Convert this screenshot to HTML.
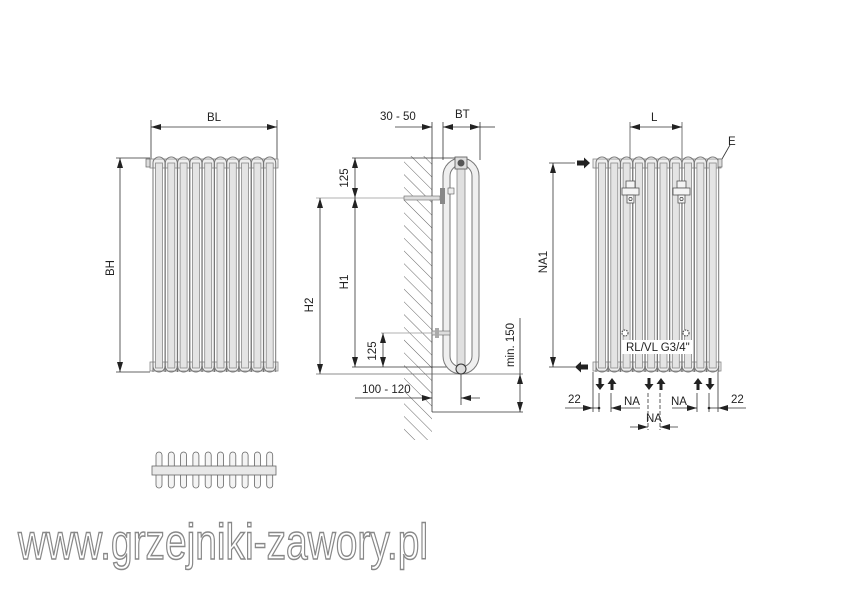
<!DOCTYPE html>
<html><head><meta charset="utf-8"><style>
html,body{margin:0;padding:0;background:#fff}
svg{display:block}
text{font-family:"Liberation Sans",sans-serif;font-size:11.5px;fill:#222;font-weight:500}
</style></head><body>
<svg width="850" height="600" viewBox="0 0 850 600" xmlns="http://www.w3.org/2000/svg">
<defs>
<pattern id="hatch" width="9" height="9" patternUnits="userSpaceOnUse" patternTransform="rotate(-45)">
<line x1="0" y1="0" x2="0" y2="9" stroke="#555" stroke-width="0.9"/>
</pattern>
<g id="col">
<path d="M-6,372 L-6,163 A6,6 0 0 1 6,163 L6,372" fill="none" stroke="#777" stroke-width="1"/>
<rect x="-3.5" y="163" width="7" height="205" fill="#e4e4e4" stroke="#888" stroke-width="0.8"/>
<path d="M-6,366 A6,6 0 0 0 6,366" fill="none" stroke="#777" stroke-width="1"/>
</g>
<g id="rad">
<rect x="0" y="159" width="128" height="9" fill="#efefef" stroke="#888" stroke-width="0.8"/>
<rect x="0" y="362" width="128" height="9" fill="#efefef" stroke="#888" stroke-width="0.8"/>
<use href="#col" x="9"/><use href="#col" x="21.3"/><use href="#col" x="33.6"/><use href="#col" x="45.9"/><use href="#col" x="58.2"/>
<use href="#col" x="70.5"/><use href="#col" x="82.8"/><use href="#col" x="95.1"/><use href="#col" x="107.4"/><use href="#col" x="119.7"/>
</g>
<marker id="ar" viewBox="0 0 10 6" refX="10" refY="3" markerWidth="10" markerHeight="6" orient="auto-start-reverse" markerUnits="userSpaceOnUse">
<path d="M0,0 L10,3 L0,6z" fill="#222"/></marker>
<g id="tc"><rect x="-3" y="0" width="6" height="36" rx="3" fill="#f4f4f4" stroke="#666" stroke-width="0.8"/></g>
</defs>

<g stroke="#333" stroke-width="0.8" fill="none">
<line x1="151" y1="120" x2="151" y2="160"/><line x1="277" y1="120" x2="277" y2="160"/>
<line x1="151" y1="127" x2="277" y2="127" marker-start="url(#ar)" marker-end="url(#ar)"/>
<line x1="116" y1="158" x2="150" y2="158"/><line x1="116" y1="372" x2="150" y2="372"/>
<line x1="120" y1="158" x2="120" y2="372" marker-start="url(#ar)" marker-end="url(#ar)"/>
</g>
<use href="#rad" x="150"/>
<rect x="146" y="159" width="4" height="8" fill="#ddd" stroke="#666" stroke-width="0.7"/>
<text x="207" y="121">BL</text>
<text transform="translate(114,268) rotate(-90)" text-anchor="middle">BH</text>

<g>
<use href="#tc" x="159" y="452"/><use href="#tc" x="171.3" y="452"/><use href="#tc" x="183.6" y="452"/><use href="#tc" x="195.9" y="452"/><use href="#tc" x="208.2" y="452"/>
<use href="#tc" x="220.5" y="452"/><use href="#tc" x="232.8" y="452"/><use href="#tc" x="245.1" y="452"/><use href="#tc" x="257.4" y="452"/><use href="#tc" x="269.7" y="452"/>
<rect x="152" y="466" width="124" height="9" fill="#e8e8e8" stroke="#666" stroke-width="0.8"/>
</g>

<rect x="404" y="156" width="28" height="284" fill="url(#hatch)"/>
<g stroke="#333" stroke-width="0.8" fill="none">
<line x1="432" y1="122" x2="432" y2="412"/>
<line x1="443" y1="122" x2="443" y2="160"/><line x1="480" y1="122" x2="480" y2="160"/>
<line x1="395" y1="127" x2="432" y2="127" marker-end="url(#ar)"/>
<line x1="443" y1="127" x2="480" y2="127" marker-start="url(#ar)" marker-end="url(#ar)"/>
<line x1="480" y1="127" x2="495" y2="127"/>
<line x1="352" y1="158" x2="460" y2="158"/>
<line x1="316" y1="198" x2="440" y2="198" stroke="#999"/>
<line x1="355" y1="158" x2="355" y2="198" marker-start="url(#ar)" marker-end="url(#ar)"/>
<line x1="355" y1="198" x2="355" y2="367" marker-start="url(#ar)" marker-end="url(#ar)"/>
<line x1="352" y1="367" x2="460" y2="367"/>
<line x1="320" y1="198" x2="320" y2="374" marker-start="url(#ar)" marker-end="url(#ar)"/>
<line x1="316" y1="374" x2="523" y2="374" stroke="#666"/>
<line x1="381" y1="333" x2="440" y2="333" stroke="#999"/>
<line x1="383" y1="333" x2="383" y2="367" marker-start="url(#ar)" marker-end="url(#ar)"/>
<line x1="520" y1="318" x2="520" y2="374"/>
<line x1="520" y1="374" x2="520" y2="412" marker-start="url(#ar)" marker-end="url(#ar)"/>
<line x1="432" y1="412" x2="523" y2="412"/>
<line x1="461" y1="370" x2="461" y2="405"/>
<line x1="355" y1="398" x2="432" y2="398" marker-end="url(#ar)"/>
<line x1="461" y1="398" x2="480" y2="398" marker-start="url(#ar)"/>
</g>
<path d="M443,176 A18,18 0 0 1 479,176 L479,356 A18,18 0 0 1 443,356 Z" fill="#efefef" stroke="#777" stroke-width="1"/>
<path d="M450,176 A11,11 0 0 1 472,176 L472,356 A11,11 0 0 1 450,356 Z" fill="#fff" stroke="#777" stroke-width="1"/>
<rect x="457" y="162" width="8" height="205" fill="#e0e0e0" stroke="#888" stroke-width="0.8"/>
<rect x="455" y="157" width="12" height="12" fill="#ddd" stroke="#555" stroke-width="0.8"/>
<circle cx="461" cy="163" r="3.5" fill="#555"/>
<circle cx="461" cy="369" r="5" fill="#ddd" stroke="#333" stroke-width="1"/>
<rect x="404" y="196" width="36" height="4" fill="#ddd" stroke="#666" stroke-width="0.6"/>
<rect x="440" y="188" width="5" height="16" fill="#888"/>
<rect x="448" y="188" width="6" height="6" fill="#eee" stroke="#555" stroke-width="0.6"/>
<rect x="432" y="331" width="18" height="4" fill="#ddd" stroke="#666" stroke-width="0.6"/>
<rect x="435" y="328" width="4" height="10" fill="#aaa"/>
<text x="380" y="120">30 - 50</text>
<text x="455" y="118">BT</text>
<text transform="translate(348,178) rotate(-90)" text-anchor="middle">125</text>
<text transform="translate(348,282) rotate(-90)" text-anchor="middle">H1</text>
<text transform="translate(313,305) rotate(-90)" text-anchor="middle">H2</text>
<text transform="translate(376,351) rotate(-90)" text-anchor="middle">125</text>
<text transform="translate(514,345) rotate(-90)" text-anchor="middle">min. 150</text>
<text x="362" y="393">100 - 120</text>

<g stroke="#333" stroke-width="0.8" fill="none">
<line x1="630" y1="122" x2="630" y2="190" stroke="#555"/><line x1="682" y1="122" x2="682" y2="190" stroke="#555"/>
<line x1="630" y1="127" x2="682" y2="127" marker-start="url(#ar)" marker-end="url(#ar)"/>
<line x1="549" y1="163" x2="575" y2="163"/>
<line x1="553" y1="163" x2="553" y2="367" marker-start="url(#ar)" marker-end="url(#ar)"/>
<line x1="549" y1="367" x2="575" y2="367"/>
<line x1="722" y1="159" x2="730" y2="145"/>
</g>
<use href="#rad" x="593"/>
<rect x="718" y="159" width="4" height="8" fill="#ddd" stroke="#666" stroke-width="0.7"/>
<g fill="#f4f4f4" stroke="#555" stroke-width="0.8">
<rect x="626" y="181" width="9" height="7"/><rect x="622" y="188" width="17" height="7"/><rect x="627" y="195" width="7" height="8"/>
<rect x="677" y="181" width="9" height="7"/><rect x="673" y="188" width="17" height="7"/><rect x="678" y="195" width="7" height="8"/>
</g>
<circle cx="630.5" cy="199" r="1.6" fill="none" stroke="#444" stroke-width="0.7"/>
<circle cx="681.5" cy="199" r="1.6" fill="none" stroke="#444" stroke-width="0.7"/>
<circle cx="625" cy="333" r="3" fill="#fff" stroke="#555" stroke-width="1.2" stroke-dasharray="1.5,1"/>
<circle cx="686" cy="333" r="3" fill="#fff" stroke="#555" stroke-width="1.2" stroke-dasharray="1.5,1"/>
<rect x="622" y="340" width="70" height="14" fill="#fff"/>
<text x="626" y="351">RL/VL G3/4"</text>
<text x="651" y="121">L</text>
<text x="728" y="145">E</text>
<text transform="translate(547,262) rotate(-90)" text-anchor="middle">NA1</text>
<g fill="#222">
<path d="M577,160.5 h7 v-3 l6,5.5 -6,5.5 v-3 h-7z"/>
<path d="M588,364.5 h-7 v-3 l-6,5.5 6,5.5 v-3 h7z"/>
<path d="M598.5,378 v6 h-3 l4.5,6 4.5,-6 h-3 v-6z"/>
<path d="M610.5,390 v-6 h-3 l4.5,-6 4.5,6 h-3 v6z"/>
<path d="M647.5,378 v6 h-3 l4.5,6 4.5,-6 h-3 v-6z"/>
<path d="M659.5,390 v-6 h-3 l4.5,-6 4.5,6 h-3 v6z"/>
<path d="M696.5,390 v-6 h-3 l4.5,-6 4.5,6 h-3 v6z"/>
<path d="M708.5,378 v6 h-3 l4.5,6 4.5,-6 h-3 v-6z"/>
</g>
<g stroke="#333" stroke-width="0.8" fill="none">
<line x1="593" y1="372" x2="593" y2="412"/><line x1="718" y1="372" x2="718" y2="412"/>
<line x1="599" y1="393" x2="599" y2="412"/><line x1="611" y1="393" x2="611" y2="412"/>
<line x1="648" y1="393" x2="648" y2="430" stroke-dasharray="4,2"/><line x1="660" y1="393" x2="660" y2="430" stroke-dasharray="4,2"/>
<line x1="697" y1="393" x2="697" y2="412"/><line x1="709" y1="393" x2="709" y2="412"/>
<line x1="565" y1="408" x2="593" y2="408" marker-end="url(#ar)"/>
<line x1="593" y1="408" x2="599" y2="408"/>
<line x1="611" y1="408" x2="640" y2="408" marker-start="url(#ar)"/>
<line x1="672" y1="408" x2="697" y2="408" marker-end="url(#ar)"/>
<line x1="709" y1="408" x2="718" y2="408"/>
<line x1="718" y1="408" x2="746" y2="408" marker-start="url(#ar)"/>
<line x1="630" y1="427" x2="648" y2="427" marker-end="url(#ar)"/>
<line x1="660" y1="427" x2="678" y2="427" marker-start="url(#ar)"/>
</g>
<circle cx="599" cy="408" r="1.3" fill="#222"/><circle cx="709" cy="408" r="1.3" fill="#222"/>
<text x="568" y="403">22</text>
<text x="624" y="405">NA</text>
<text x="671" y="405">NA</text>
<text x="646" y="422">NA</text>
<text x="731" y="403">22</text>

<text x="18" y="559" textLength="410" lengthAdjust="spacingAndGlyphs" style="font-size:50px;fill:#fff;stroke:#888;stroke-width:1.5;font-weight:normal">www.grzejniki-zawory.pl</text>
</svg>
</body></html>
